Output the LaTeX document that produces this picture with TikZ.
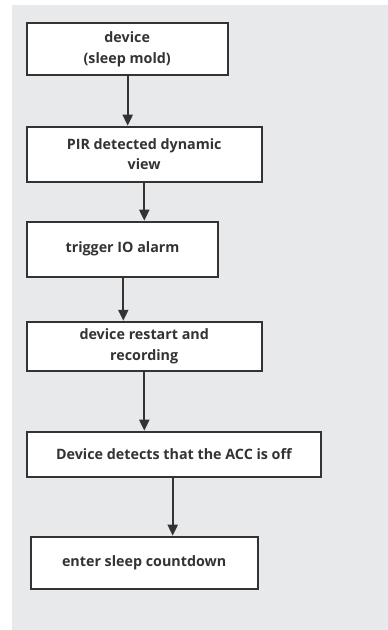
\documentclass[tikz,border=0pt]{standalone}
\usepackage{fontspec}
\setmainfont{Open Sans}
\usetikzlibrary{arrows.meta}
\definecolor{bg}{HTML}{E8E9EB}
\definecolor{ink}{HTML}{333333}
\begin{document}
\begin{tikzpicture}[x=1pt,y=-1pt,
  box/.style={draw=ink,line width=2pt,fill=white,inner sep=0pt,text=ink,font=\bfseries\fontsize{14.3}{20.5}\selectfont,align=center},
  arr/.style={draw=ink,line width=2pt,-{Triangle[length=11pt,width=10pt]}}]
\useasboundingbox (0,0) rectangle (388,630);
\fill[bg] (12,5) rectangle (388,630);
\node[box,minimum width=201pt,minimum height=52pt] (b1) at (127.2,49.2) {device\\(sleep mold)};
\node[box,minimum width=235pt,minimum height=55pt] (b2) at (144.2,154.2) {PIR detected dynamic\\view};
\node[box,minimum width=191.6pt,minimum height=55pt] (b3) at (122.5,249.2) {trigger IO alarm};
\node[box,minimum width=235pt,minimum height=49.3pt] (b4) at (144.2,346.4) {device restart and\\recording};
\node[box,minimum width=294.3pt,minimum height=45pt] (b5) at (173.9,454.2) {Device detects that the ACC is off};
\node[box,minimum width=227pt,minimum height=52.6pt] (b6) at (144.2,563) {enter sleep countdown};
\draw[arr] (b1.south -| 127.7,0) -- (b2.north -| 127.7,0);
\draw[arr] (b2.south -| 144.3,0) -- (b3.north -| 144.3,0);
\draw[arr] (b3.south -| 123.3,0) -- (b4.north -| 123.3,0);
\draw[arr] (b4.south -| 144.3,0) -- (b5.north -| 144.3,0);
\draw[arr] (b5.south -| 172.7,0) -- (b6.north -| 172.7,0);
\end{tikzpicture}
\end{document}
